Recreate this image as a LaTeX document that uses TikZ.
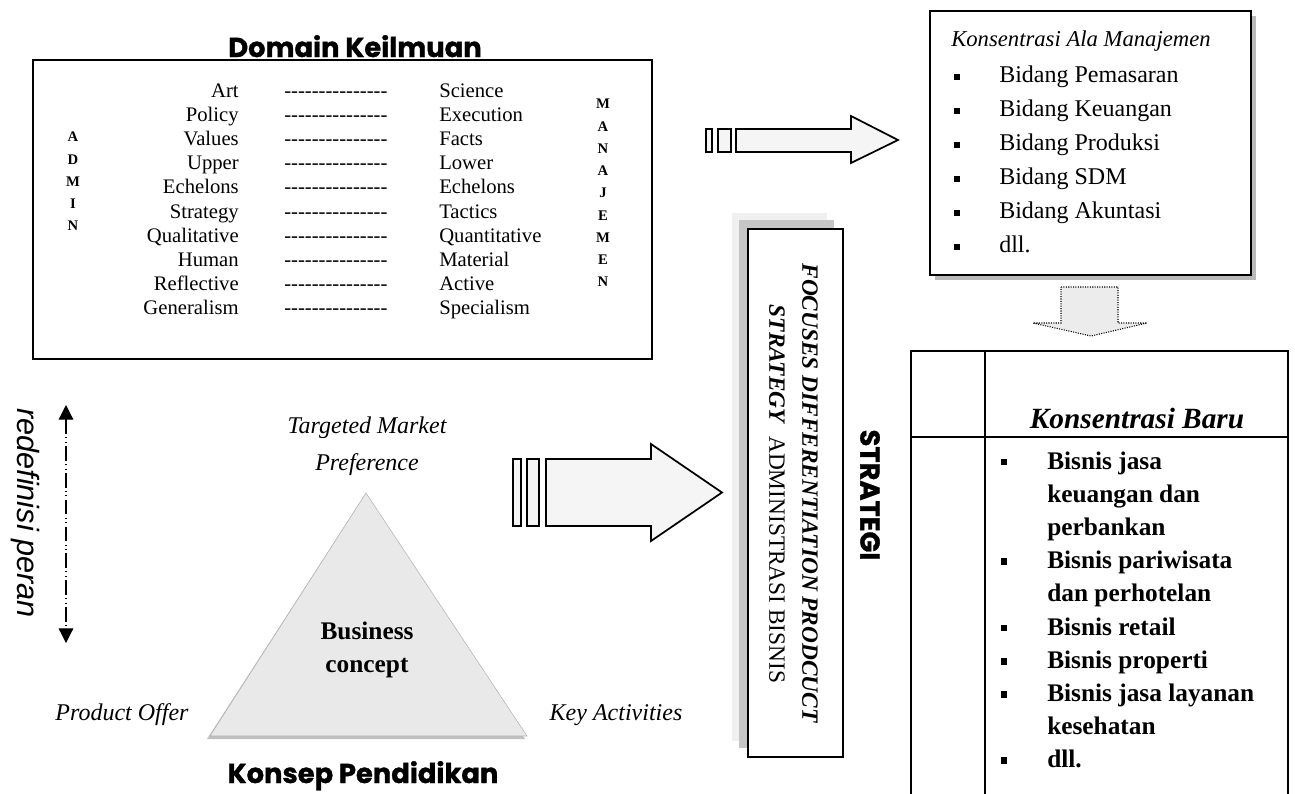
\documentclass[tikz,border=0pt]{standalone}
\usepackage{fontspec}
\setmainfont{Liberation Serif}
\newfontfamily\headfont{Poppins}[FakeBold=1.2]
\newfontfamily\armfont{Liberation Sans}
\usepackage{tikz}
\usetikzlibrary{arrows.meta}

\newcommand{\dashes}{\foreach \n in {1,...,15}{-\kern0pt}}

\begin{document}
\begin{tikzpicture}[x=0.75pt, y=-0.75pt,
    frame/.style={rectangle, draw, line width=1.3pt, fill=white},
    plain/.style={inner sep=0pt, font=\fontsize{15.5}{18}\selectfont},
    heavy/.style={inner sep=0pt, font=\headfont\bfseries\fontsize{20.5}{24}\selectfont},
    letters/.style={inner sep=0pt, align=center, font=\bfseries\fontsize{11}{16.7}\selectfont},
    item/.style={inner sep=0pt, anchor=base west, font=\fontsize{18}{21}\selectfont},
    newitem/.style={inner sep=0pt, anchor=base west, font=\bfseries\fontsize{19}{22}\selectfont},
    corner/.style={inner sep=0pt, anchor=base, font=\itshape\fontsize{18}{21}\selectfont},
    dot/.style={rectangle, fill=black, inner sep=0pt, minimum size=5.2pt},
    fatarrow/.style={draw, line width=1.3pt, fill=gray!8},
    shade/.style={fill=gray!55}
]
\useasboundingbox (0,0) rectangle (1295,793);

% domain keilmuan
\node[frame, minimum width=464pt, minimum height=224pt] (domain) at (342.5,209.5) {};
\node[heavy, anchor=base] (dtitle) at (355,57) {Domain Keilmuan};
\foreach \l/\r [count=\i from 0] in {Art/Science, Policy/Execution, Values/Facts,
    Upper/Lower, Echelons/Echelons, Strategy/Tactics, Qualitative/Quantitative,
    Human/Material, Reflective/Active, Generalism/Specialism} {
  \node[plain, anchor=base east] (adm\i) at (239,97+24.2*\i) {\l};
  \node[plain, anchor=base west] (dash\i) at (284,97+24.2*\i) {\dashes};
  \node[plain, anchor=base west] (man\i) at (439,97+24.2*\i) {\r};
}
\node[letters] (admin) at (73,181.5) {A\\D\\M\\I\\N};
\node[letters] (manajemen) at (603,193) {M\\A\\N\\A\\J\\E\\M\\E\\N};

% arrow to konsentrasi ala manajemen
\draw[fatarrow] (706,129) rectangle (712,152);
\draw[fatarrow] (718,129) rectangle (731,152);
\draw[fatarrow] (736,129) -- (851,129) -- (851,116) -- (898,140) -- (851,163)
    -- (851,152) -- (736,152) -- cycle;

% konsentrasi ala manajemen
\fill[shade] (935,16) rectangle (1256,280);
\node[frame, line width=1pt, minimum width=240.75pt, minimum height=198pt] (kam) at (1090.5,143) {};
\node[inner sep=0pt, anchor=base west, font=\itshape\fontsize{17}{20}\selectfont] (kamtitle) at (951,46) {Konsentrasi Ala Manajemen};
\foreach \t [count=\i from 0] in {Bidang Pemasaran, Bidang Keuangan, Bidang Produksi,
    Bidang SDM, Bidang Akuntasi, dll.} {
  \node[dot] (kb\i) at (957,77+34*\i) {};
  \node[item] (ki\i) at (999,82+34*\i) {\t};
}

% dotted arrow down
\draw[densely dotted, line width=0.8pt, fill=gray!15] (1061,287) -- (1118,287) -- (1118,323)
    -- (1147,323) -- (1091,336) -- (1033,323) -- (1061,323) -- cycle;

% konsentrasi baru
\draw[line width=1.1pt] (911,800) |- (1288,351) -- (1288,800);
\draw[line width=1.1pt] (985,351) -- (985,800);
\draw[line width=1.1pt] (911,437) -- (1288,437);
\node[inner sep=0pt, anchor=base, font=\bfseries\itshape\fontsize{22}{26}\selectfont] (barutitle) at (1137,428) {Konsentrasi Baru};
\foreach \t/\b [count=\i from 0] in {Bisnis jasa/1, keuangan dan/0, perbankan/0,
    Bisnis pariwisata/1, dan perhotelan/0, Bisnis retail/1, Bisnis properti/1,
    Bisnis jasa layanan/1, kesehatan/0, dll./1} {
  \node[newitem] (baru\i) at (1047,469+33.2*\i) {\t};
  \ifnum\b=1 \node[dot] (bb\i) at (1004,462+33.2*\i) {}; \fi
}

% strategi
\fill[gray!12] (732,213) rectangle (827,741);
\fill[gray!45] (739,220) rectangle (834,748);
\node[frame, minimum width=71.25pt, minimum height=396pt] (strat) at (795.5,493) {};
\node[rotate=-90, inner sep=0pt, font=\bfseries\itshape\fontsize{17.5}{20}\selectfont] (focus) at (810,493) {FOCUSES DIFFERENTIATION PRODCUCT};
\node[rotate=-90, inner sep=0pt, font=\fontsize{17.5}{20}\selectfont] (admbis) at (777,494) {\textbf{\textit{STRATEGY}}\ \ ADMINISTRASI BISNIS};
\node[heavy, rotate=-90] (strategi) at (870,495) {STRATEGI};

% arrow to strategi
\draw[fatarrow] (513,459) rectangle (521,526);
\draw[fatarrow] (527,459) rectangle (539,526);
\draw[fatarrow] (546,459) -- (651,459) -- (651,444) -- (722,492.5) -- (651,541)
    -- (651,526) -- (546,526) -- cycle;

% redefinisi peran
\coordinate (rtop) at (66,405);
\coordinate (rbot) at (66,643);
\draw[{Triangle[width=11pt,length=11pt]}-{Triangle[width=11pt,length=11pt]}, line width=0.9pt,
    dash pattern=on 11pt off 2.5pt on 0.8pt off 2.5pt on 0.8pt off 2.5pt] (rtop) -- (rbot);
\node[rotate=-90, inner sep=0pt, font=\armfont\itshape\fontsize{23}{26}\selectfont] (redef) at (25,513) {redefinisi peran};

% konsep pendidikan
\coordinate (apex) at (366,493);
\coordinate (bl) at (210,736);
\coordinate (br) at (527,736);
\fill[gray!50] (364,496) -- (207,739) -- (525,739) -- cycle;
\draw[gray!60, fill=gray!17] (apex) -- (br) -- (bl) -- cycle;
\node[corner] (tmarket) at (367,433) {Targeted Market};
\node[corner] (pref) at ([yshift=-27.75pt]tmarket.base) {Preference};
\node[inner sep=0pt, anchor=base, font=\bfseries\fontsize{19}{22}\selectfont] (biz) at (367,639) {Business};
\node[inner sep=0pt, anchor=base, font=\bfseries\fontsize{19}{22}\selectfont] (concept) at ([yshift=-24.75pt]biz.base) {concept};
\node[corner] (offer) at (122,720) {Product Offer};
\node[corner] (keyact) at (616,720) {Key Activities};
\node[heavy, anchor=base] (ktitle) at (363,783) {Konsep Pendidikan};
\end{tikzpicture}
\end{document}
